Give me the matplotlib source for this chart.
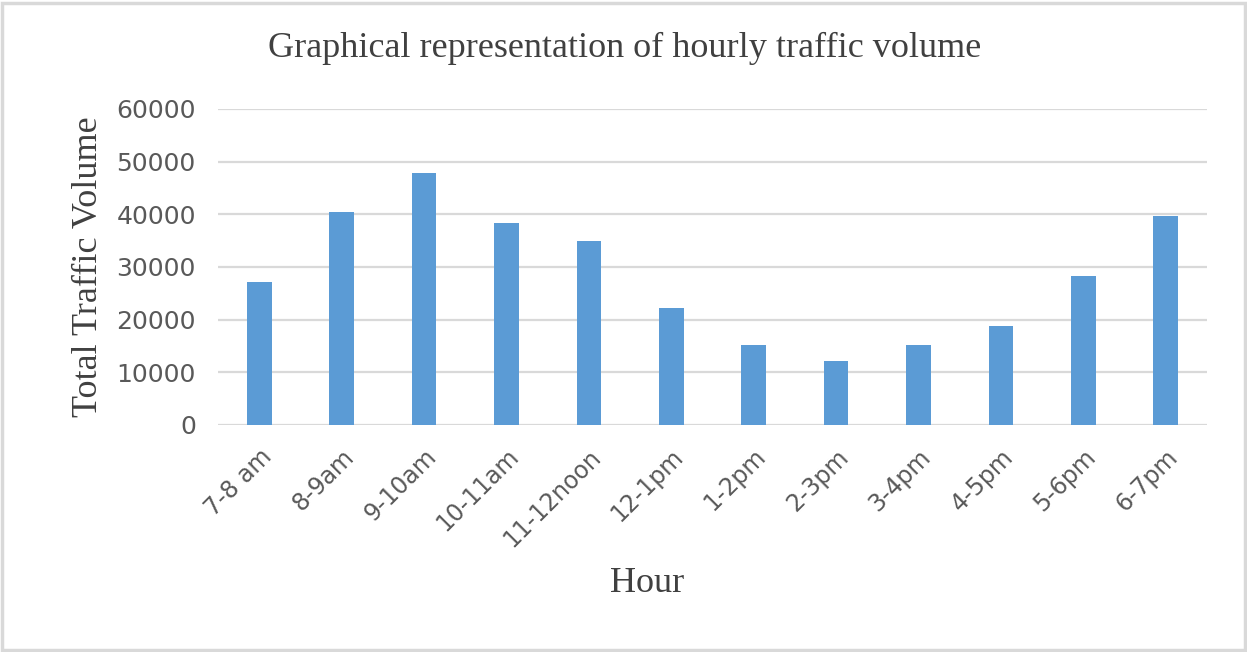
import matplotlib.pyplot as plt
from matplotlib.patches import Rectangle

hours = ['7-8 am', '8-9am', '9-10am', '10-11am', '11-12noon', '12-1pm',
         '1-2pm', '2-3pm', '3-4pm', '4-5pm', '5-6pm', '6-7pm']
volume = [27100, 40400, 47800, 38400, 35000, 22200,
          15100, 12200, 15100, 18800, 28300, 39600]
yticks = [0, 10000, 20000, 30000, 40000, 50000, 60000]

fig = plt.figure(figsize=(12.47, 6.52), dpi=100)
ax = fig.add_axes([218/1247, 1 - 425/652, (1207 - 218)/1247, (425 - 109)/652])

ax.bar(range(len(hours)), volume, width=0.3, color='#5B9BD5', zorder=3)

ax.set_ylim(0, 60000)
ax.set_xlim(-0.5, len(hours) - 0.5)
ax.set_yticks(yticks)
ax.set_yticklabels([str(v) for v in yticks])
ax.set_xticks(range(len(hours)))
ax.set_xticklabels(hours, rotation=45, ha='right', rotation_mode='anchor')
ax.yaxis.grid(True, color='#D9D9D9', linewidth=1.6, zorder=0)
for s in ax.spines.values():
    s.set_visible(False)
ax.tick_params(length=0, colors='#595959', labelsize=18)
ax.tick_params(axis='y', pad=16)
ax.tick_params(axis='x', pad=14)
for lbl in ax.get_xticklabels():
    lbl.set_fontsize(17)

serif = 'Liberation Serif'
fig.text(625/1247, 1 - 48/652, 'Graphical representation of hourly traffic volume',
         ha='center', va='center', family=serif, fontsize=26, color='#404040')
ax.set_ylabel('Total Traffic Volume', family=serif, fontsize=26, color='#404040', labelpad=8)
fig.text(647/1247, 1 - 583/652, 'Hour', ha='center', va='center',
         family=serif, fontsize=26, color='#404040')

fig.patches.append(Rectangle((2/1247, 2/652), 1243/1247, 647/652, transform=fig.transFigure,
                             fill=False, edgecolor='#D9D9D9', linewidth=2.5))

fig.savefig('out.png', dpi=100)
